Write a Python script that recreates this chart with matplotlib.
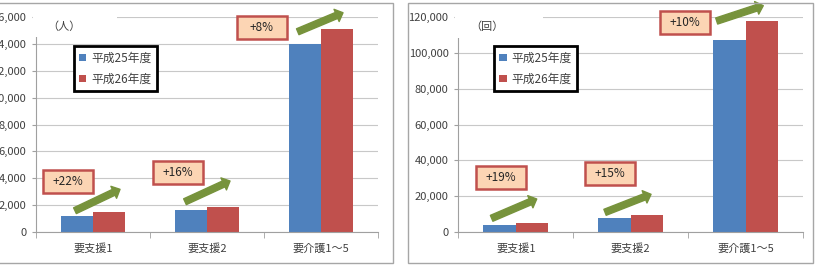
import matplotlib
matplotlib.use('Agg')
import matplotlib.pyplot as plt
from matplotlib.patches import Rectangle
import numpy as np

plt.rcParams['font.family'] = ['Noto Sans CJK JP', 'DejaVu Sans']

categories = ['要支援1', '要支援2', '要介護1～5']
series_names = ['平成25年度', '平成26年度']

# 左: 人数
people_h25 = [1240, 1630, 13950]
people_h26 = [1510, 1890, 15100]
people_pct = ['+22%', '+16%', '+8%']
people_ticks = [0, 2000, 4000, 6000, 8000, 10000, 12000, 14000, 16000]

# 右: 回数
visits_h25 = [4300, 8150, 107000]
visits_h26 = [5150, 9370, 117800]
visits_pct = ['+19%', '+15%', '+10%']
visits_ticks = [0, 20000, 40000, 60000, 80000, 100000, 120000]

BLUE = '#4F81BD'
RED = '#C0504D'
GREEN = '#77933C'
TXT = '#404040'
GRID = '#C8C8C8'

fig = plt.figure(figsize=(8.19, 2.65), dpi=100)

# パネル枠
for x0, x1 in [(-5, 393), (408, 813)]:
    fig.patches.append(Rectangle((x0 / 819, 2 / 265), (x1 - x0) / 819, 260 / 265,
                                 transform=fig.transFigure, fill=False,
                                 edgecolor='#A6A6A6', linewidth=1))


def draw(ax, v25, v26, ticks, unit, pct, boxes, arrows, leg_x, cover):
    x = np.arange(len(categories))
    w = 0.284
    ax.bar(x - w / 2, v25, w, color=BLUE, label=series_names[0], zorder=2)
    ax.bar(x + w / 2, v26, w, color=RED, label=series_names[1], zorder=2)
    ax.set_xlim(-0.5, 2.5)
    ax.set_ylim(0, ticks[-1])
    ax.set_yticks(ticks)
    ax.set_yticklabels(['{:,}'.format(t) for t in ticks])
    ax.set_xticks(x)
    ax.set_xticklabels(categories)
    ax.set_xticks([-0.5, 0.5, 1.5, 2.5], minor=True)
    ax.tick_params(axis='x', which='major', length=0, pad=8, labelsize=8, colors=TXT)
    ax.tick_params(axis='x', which='minor', length=4, color='#A0A0A0')
    ax.tick_params(axis='y', length=3, color='#A0A0A0', labelsize=8, colors=TXT, pad=4)
    ax.grid(axis='y', color=GRID, linewidth=0.8, zorder=0)
    ax.set_axisbelow(True)
    for s in ['top', 'right']:
        ax.spines[s].set_visible(False)
    for s in ['left', 'bottom']:
        ax.spines[s].set_color('#A0A0A0')
        ax.spines[s].set_linewidth(0.8)

    # 単位ラベル部分の白抜き
    ax.add_patch(Rectangle((-0.01, cover[1]), cover[0] + 0.01, 1.03 - cover[1],
                           transform=ax.transAxes, facecolor='white',
                           edgecolor='none', zorder=3, clip_on=False))
    ax.text(0.082, 0.952, unit, transform=ax.transAxes, ha='center', va='center',
            fontsize=8, color=TXT, zorder=4)

    leg = ax.legend(loc='upper left', bbox_to_anchor=(leg_x, 0.862), fontsize=8.5,
                    handlelength=0.6, handleheight=0.6, handletextpad=0.4,
                    labelspacing=0.65, borderpad=0.45, fancybox=False,
                    framealpha=1, borderaxespad=0)
    leg.get_frame().set_edgecolor('black')
    leg.get_frame().set_linewidth(2)
    for t in leg.get_texts():
        t.set_color(TXT)

    bw = 0.44
    bh = ticks[-1] * 23 / 215.6
    for label, (cx, cy) in zip(pct, boxes):
        ax.add_patch(Rectangle((cx - bw / 2, cy - bh / 2), bw, bh, facecolor='#FCD5B4',
                               edgecolor=RED, linewidth=1.8, zorder=5, clip_on=False))
        ax.text(cx, cy, label, ha='center', va='center', fontsize=8.5, color='#262626',
                zorder=6)
    for (xa, ya), (xb, yb) in arrows:
        ax.annotate('', xy=(xb, yb), xytext=(xa, ya),
                    arrowprops=dict(arrowstyle='simple,head_length=0.5,head_width=0.95,tail_width=0.46',
                                    color=GREEN, mutation_scale=10, shrinkA=0, shrinkB=0),
                    zorder=5, annotation_clip=False)


ax1 = fig.add_axes([36 / 819, 32.7 / 265, 342 / 819, 215.6 / 265])
draw(ax1, people_h25, people_h26, people_ticks, '（人）', people_pct,
     boxes=[(-0.219, 3770), (0.746, 4437), (1.482, 15233)],
     arrows=[((-0.158, 1603), (0.237, 3190)),
             ((0.807, 2270), (1.202, 3806)),
             ((1.796, 14885), (2.193, 16294))],
     leg_x=0.111, cover=(0.237, 0.906))

ax2 = fig.add_axes([458.3 / 819, 32.7 / 265, 345 / 819, 215.6 / 265])
draw(ax2, visits_h25, visits_h26, visits_ticks, '（回）', visits_pct,
     boxes=[(-0.130, 30500), (0.819, 32620), (1.471, 116780)],
     arrows=[((-0.210, 7790), (0.182, 18535)),
             ((0.776, 11130), (1.176, 21150)),
             ((1.747, 117600), (2.152, 126130))],
     leg_x=0.104, cover=(0.245, 0.901))

fig.savefig('out.png', dpi=100)
